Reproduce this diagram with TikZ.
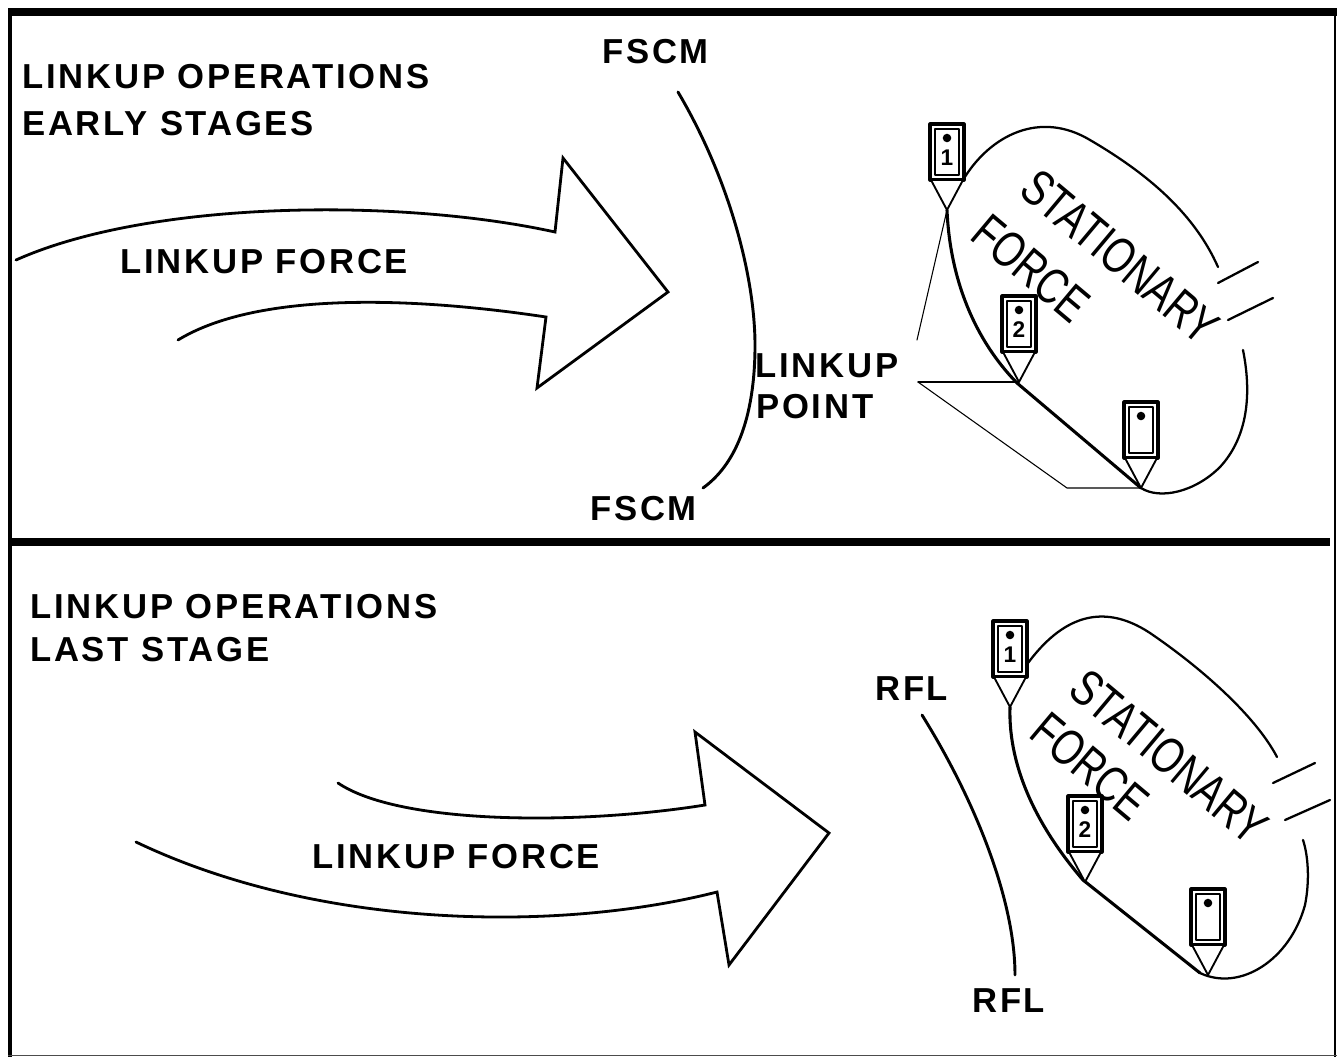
\documentclass[tikz,border=0pt]{standalone}
\usepackage{graphicx}
\usepackage{fontspec}
\setmainfont{Liberation Sans}
\newfontfamily\lblfont[LetterSpace=8]{Liberation Sans}
\newfontfamily\stafont{Liberation Sans}
\tikzset{
  lbl/.style={anchor=base west, inner sep=0pt, font=\lblfont\bfseries\fontsize{26}{30}\selectfont},
  title/.style={lbl},
  sta/.style={inner sep=0pt, rotate=-40, font=\stafont\fontsize{38}{38}\selectfont},
  arrowline/.style={line width=2.1pt, line join=miter},
  curveline/.style={line width=2.2pt},
  thinoutline/.style={line width=1.7pt},
  thickoutline/.style={line width=2.3pt},
  sector/.style={line width=0.8pt},
  pics/marker/.style={code={
    \draw[line width=2.3pt, fill=white] (-17,-86) rectangle (17,-30);
    \draw[line width=0.9pt] (-12,-81) rectangle (12,-35);
    \fill (0,-72) circle[radius=3.2pt];
    \node[inner sep=0pt, font=\bfseries\fontsize{17}{17}\selectfont] at (0,-52) {#1};
    \draw[line width=1.4pt, fill=white] (-16,-30) -- (0,0) -- (16,-30) -- cycle;
  }}
}
\begin{document}
\begin{tikzpicture}[x=0.75pt,y=-0.75pt, line cap=round, line join=round]
\useasboundingbox (0,0) rectangle (1340,1057);
% frame
\draw[line width=6pt, line cap=butt] (8,12) -- (1337,12);
\draw[line width=3.2pt, line cap=butt] (10,8) -- (10,1057);
\draw[line width=1.5pt, line cap=butt] (1335,8) -- (1335,1057);
\draw[line width=1.2pt, black!70, line cap=butt] (8,1055.5) -- (1337,1055.5);
\draw[line width=6pt, line cap=butt] (12,542) -- (1330,542);

% titles and labels
\node[title] (t1a) at (22,88) {LINKUP OPERATIONS};
\node[title] (t1b) at (22,135) {EARLY STAGES};
\node[title] (t2a) at (30,618) {LINKUP OPERATIONS};
\node[title] (t2b) at (30,661) {LAST STAGE};
\node[lbl] (lf1) at (120,273) {LINKUP FORCE};
\node[lbl] (lf2) at (312,868) {LINKUP FORCE};
\node[lbl] (fscm1) at (602,63) {FSCM};
\node[lbl] (fscm2) at (590,520) {FSCM};
\node[lbl] (lp1) at (755,377) {LINKUP};
\node[lbl] (lp2) at (756,418) {POINT};
\node[lbl] (rfl1) at (875,700) {RFL};
\node[lbl] (rfl2) at (972,1012) {RFL};

% big arrows
\draw[arrowline] (16,260) .. controls (150,200) and (400,198) .. (555,232) -- (563,158) -- (668,292) -- (537,388) -- (546,317) .. controls (420,298) and (260,290) .. (178,340);
\draw[arrowline] (338,783) .. controls (400,825) and (580,825) .. (705,805) -- (695,732) -- (829,833) -- (729,965) -- (717,892) .. controls (560,932) and (320,930) .. (136,842);

% FSCM and RFL lines
\draw[curveline] (678,92) .. controls (730,180) and (756,280) .. (755,350) .. controls (754,420) and (735,465) .. (703,488);
\draw[curveline] (922,715) .. controls (975,800) and (1015,900) .. (1015,975);

% top stationary force
\coordinate (m1a) at (947,210);
\coordinate (m2a) at (1019,382);
\coordinate (m3a) at (1141,488);
\coordinate (lpa) at (918,382);
\draw[sector] (m1a) -- (917,340);
\draw[sector] (lpa) -- (m2a);
\draw[sector] (lpa) -- (1067,488) -- (m3a);
\draw[thinoutline] (963,180) .. controls (990,135) and (1040,110) .. (1090,140) .. controls (1150,175) and (1195,215) .. (1218,267);
\draw[thinoutline] (1243,350) .. controls (1253,400) and (1245,440) .. (1220,467) .. controls (1195,492) and (1160,500) .. (m3a);
\draw[thickoutline] (m3a) -- (1017,383) .. controls (975,340) and (950,280) .. (m1a);
\draw[thinoutline] (1218,283) -- (1258,262);
\draw[thinoutline] (1228,320) -- (1273,298);
\node[sta] (st1) at (1120,257) {\scalebox{0.76}[1]{STATIONARY}};
\node[sta] (fo1) at (1031,268) {\scalebox{0.76}[1]{FORCE}};
\pic at (m1a) {marker=1};
\pic at (m2a) {marker=2};
\pic at (m3a) {marker={}};

% bottom stationary force
\coordinate (m1b) at (1010,707);
\coordinate (m2b) at (1085,882);
\coordinate (m3b) at (1208,975);
\draw[thinoutline] (1028,663) .. controls (1060,620) and (1100,600) .. (1150,633) .. controls (1200,667) and (1255,715) .. (1277,757);
\draw[thickoutline] (m1b) .. controls (1008,770) and (1040,830) .. (1083,880) -- (1200,973);
\draw[thinoutline] (1200,973) .. controls (1240,992) and (1290,960) .. (1305,905) .. controls (1310,880) and (1308,855) .. (1303,840);
\draw[thinoutline] (1273,783) -- (1315,763);
\draw[thinoutline] (1285,820) -- (1330,800);
\node[sta] (st2) at (1169,757) {\scalebox{0.76}[1]{STATIONARY}};
\node[sta] (fo2) at (1090,766) {\scalebox{0.76}[1]{FORCE}};
\pic at (m1b) {marker=1};
\pic at (m2b) {marker=2};
\pic at (m3b) {marker={}};
\end{tikzpicture}
\end{document}
